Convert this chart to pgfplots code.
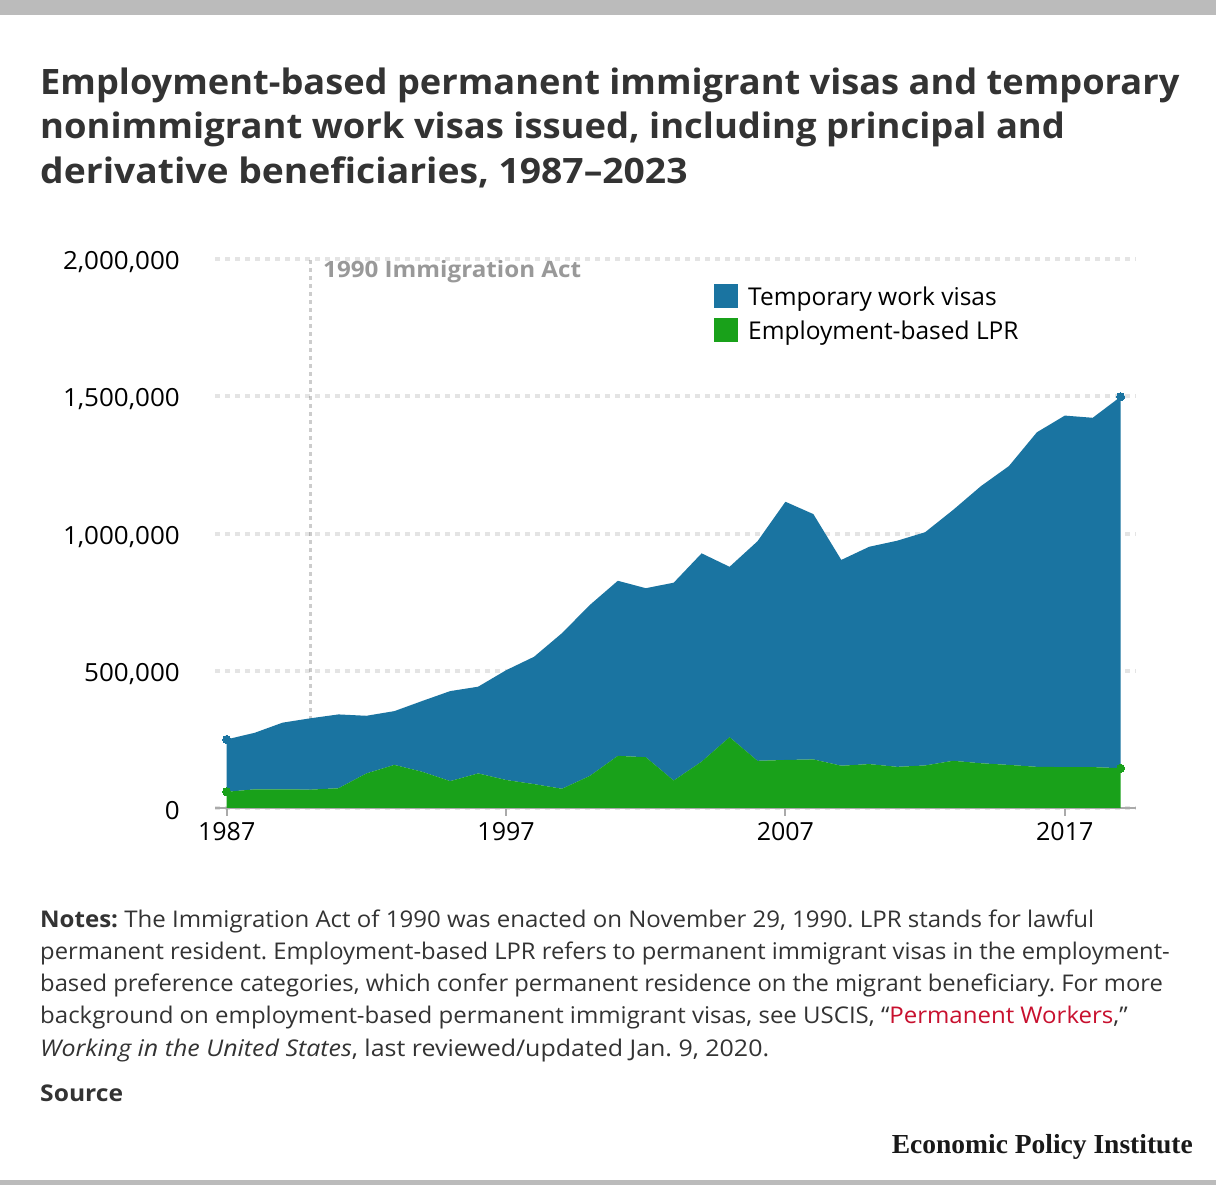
\documentclass[border=0pt]{standalone}
\usepackage{pgfplots}
\pgfplotsset{compat=1.18}
\usepackage{fontspec}
\setmainfont{Open Sans}
\newfontfamily\epifont{Liberation Serif}
\definecolor{tblue}{HTML}{1A74A1}
\definecolor{lgreen}{HTML}{19A11A}
\definecolor{titlegray}{HTML}{333333}
\definecolor{gridgray}{HTML}{E4E4E4}
\definecolor{axisgray}{HTML}{AAAAAA}
\definecolor{bargray}{HTML}{BBBBBB}
\definecolor{linkred}{HTML}{C8102E}
\definecolor{annogray}{HTML}{999999}

\pgfplotstableread{
year lpr temp
1987 59000 191000
1988 68000 206000
1989 68000 243000
1990 67000 260000
1991 72000 269000
1992 126000 210000
1993 157000 196000
1994 132000 258000
1995 98000 328000
1996 126000 316000
1997 102000 400000
1998 87000 464000
1999 70000 567000
2000 117000 623000
2001 190000 638000
2002 185000 616000
2003 100000 721000
2004 169000 759000
2005 258000 621000
2006 172000 800000
2007 175000 941000
2008 177000 894000
2009 154000 750000
2010 160000 792000
2011 150000 824000
2012 155000 850000
2013 172000 914000
2014 163000 1010000
2015 157000 1089000
2016 150000 1219000
2017 149000 1281000
2018 149000 1273000
2019 145000 1354000
}\visadata

\begin{document}
\frenchspacing
\begin{tikzpicture}[x=1bp,y=1bp]
\path[use as bounding box, fill=white] (0,0) rectangle (1216,1185);
\fill[bargray] (0,1170) rectangle (1216,1185);
\fill[bargray] (0,0) rectangle (1216,5);

% title
\begin{scope}[every node/.style={anchor=base west, inner sep=0pt, text=titlegray, font=\fontsize{35bp}{40bp}\selectfont\bfseries}]
\node[xscale=1.035] at (40,1090.7) {Employment-based permanent immigrant visas and temporary};
\node[xscale=1.04] at (40,1046.2) {nonimmigrant work visas issued, including principal and};
\node[xscale=1.065] at (40,1001.7) {derivative beneficiaries, 1987–2023};
\end{scope}

\begin{axis}[
  at={(215bp,377bp)}, anchor=south west,
  width=921bp, height=548.8bp, scale only axis,
  xmin=1986.58, xmax=2019.55, ymin=0, ymax=2000000,
  axis x line*=bottom, axis y line*=left,
  y axis line style={draw=none},
  x axis line style={draw=axisgray, line width=2bp},
  xtick={1987,1997,2007,2017},
  ytick={0,500000,1000000,1500000,2000000},
  tick align=outside,
  major tick length=8bp,
  xtick style={draw=axisgray, line width=2bp},
  ytick style={draw=none},
  ymajorgrids,
  grid style={gridgray, line width=4bp, dash pattern=on 4.5bp off 5.5bp},
  scaled y ticks=false,
  /pgf/number format/assume math mode=true,
  yticklabel style={/pgf/number format/fixed, /pgf/number format/1000 sep={,}, inner sep=0pt, xshift=-27bp, yshift=-3bp, xscale=1.04},
  xticklabel style={/pgf/number format/1000 sep={}, inner sep=0pt, yshift=-6bp},
  tick label style={font=\fontsize{25bp}{25bp}\selectfont, text=black},
  stack plots=y,
  clip=false,
]
\addplot[fill=lgreen, draw=none, mark=*, mark indices={1,33}, mark size=4bp, mark options={solid, fill=lgreen, draw=lgreen, line width=0pt}] table[x=year, y=lpr] {\visadata} \closedcycle;
\addplot[fill=tblue, draw=none, mark=*, mark indices={1,33}, mark size=4bp, mark options={solid, fill=tblue, draw=tblue, line width=0pt}] table[x=year, y=temp] {\visadata} \closedcycle;
\draw[black, opacity=0.2, line width=3.5bp, dash pattern=on 4bp off 4bp] (axis cs:1990,0) -- (axis cs:1990,2010000);
\end{axis}

% annotation
\node[anchor=base west, inner sep=0pt, text=annogray, font=\fontsize{22.5bp}{24bp}\selectfont\bfseries, xscale=1.075] at (323,907.7) {1990 Immigration Act};

% legend
\fill[tblue] (714,877) rectangle (738,901);
\fill[lgreen] (714,843) rectangle (738,867);
\node[anchor=base west, inner sep=0pt, text=black, font=\fontsize{24.5bp}{28bp}\selectfont] at (748,879) {Temporary work visas};
\node[anchor=base west, inner sep=0pt, text=black, font=\fontsize{24.5bp}{28bp}\selectfont] at (748,845) {Employment-based LPR};

% notes
\begin{scope}[every node/.style={anchor=base west, inner sep=0pt, text=titlegray, font=\fontsize{23bp}{32bp}\selectfont}]
\node[xscale=1.045] at (40,257.7) {\textbf{Notes:} The Immigration Act of 1990 was enacted on November 29, 1990. LPR stands for lawful};
\node[xscale=1.033] at (40,225.5) {permanent resident. Employment-based LPR refers to permanent immigrant visas in the employment-};
\node[xscale=1.033] at (40,193.3) {based preference categories, which confer permanent residence on the migrant beneficiary. For more};
\node[xscale=1.044] at (40,161) {background on employment-based permanent immigrant visas, see USCIS, “\textcolor{linkred}{Permanent Workers},”};
\node[xscale=1.085] at (40,128.5) {\textit{Working in the United States}, last reviewed/updated Jan. 9, 2020.};
\node[xscale=1.07] at (40,83.3) {\textbf{Source}};
\end{scope}

\node[anchor=base east, inner sep=0pt, text=black!90, font=\fontsize{27.5bp}{30bp}\selectfont\epifont\bfseries] at (1193,31.7) {Economic Policy Institute};
\end{tikzpicture}
\end{document}
